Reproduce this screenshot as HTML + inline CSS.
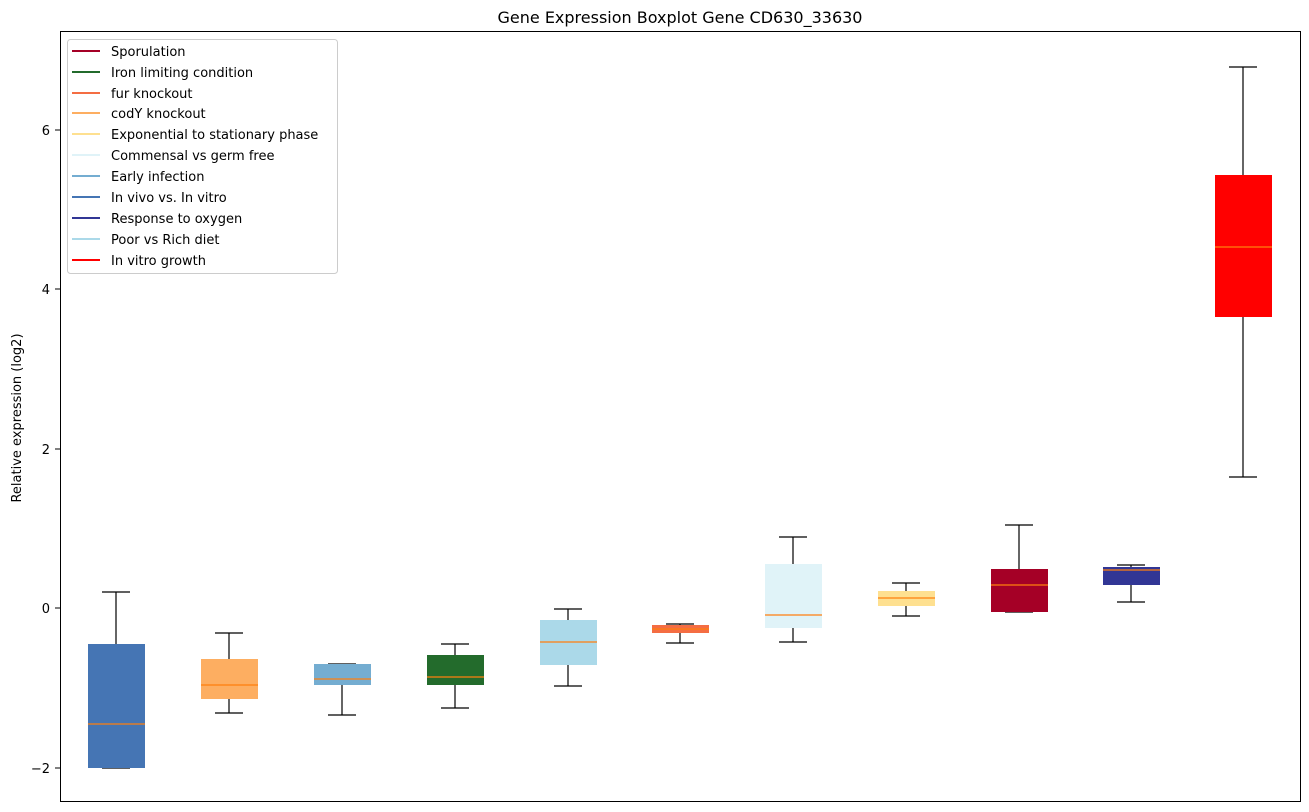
<!DOCTYPE html>
<html><head><style>body{margin:0;background:#fff}svg{display:block}text{font-family:"DejaVu Sans","Liberation Sans",sans-serif}</style></head>
<body>
<svg width="1309" height="812" xmlns="http://www.w3.org/2000/svg">
<rect width="1309" height="812" fill="#fff"/>
<text x="680" y="23" font-size="16" text-anchor="middle">Gene Expression Boxplot Gene CD630_33630</text>
<text transform="translate(21,418) rotate(-90)" font-size="13" text-anchor="middle">Relative expression (log2)</text>
<g font-size="13" text-anchor="end">
<text x="50" y="135">6</text><text x="50" y="294">4</text><text x="50" y="454">2</text><text x="50" y="613">0</text><text x="50" y="773">−2</text>
</g>
<g stroke="#000"><line x1="55" y1="130" x2="60" y2="130"/><line x1="55" y1="289" x2="60" y2="289"/><line x1="55" y1="449" x2="60" y2="449"/><line x1="55" y1="608" x2="60" y2="608"/><line x1="55" y1="768" x2="60" y2="768"/></g>
<g stroke-width="1.2">
<!-- 1 -->
<g stroke="#000"><line x1="116" y1="592" x2="116" y2="768"/><line x1="102" y1="592" x2="130" y2="592"/><line x1="102" y1="768" x2="130" y2="768"/></g>
<rect x="88" y="644" width="57" height="124" fill="#4575b4"/><line x1="88" y1="724" x2="145" y2="724" stroke="#ff7f0e"/>
<!-- 2 -->
<g stroke="#000"><line x1="229" y1="633" x2="229" y2="713"/><line x1="215" y1="633" x2="243" y2="633"/><line x1="215" y1="713" x2="243" y2="713"/></g>
<rect x="201" y="659" width="57" height="40" fill="#fdae61"/><line x1="201" y1="685" x2="258" y2="685" stroke="#ff7f0e"/>
<!-- 3 -->
<g stroke="#000"><line x1="342" y1="664" x2="342" y2="715"/><line x1="328" y1="664" x2="356" y2="664"/><line x1="328" y1="715" x2="356" y2="715"/></g>
<rect x="314" y="664" width="57" height="21" fill="#74add1"/><line x1="314" y1="679" x2="371" y2="679" stroke="#ff7f0e"/>
<!-- 4 -->
<g stroke="#000"><line x1="455" y1="644" x2="455" y2="708"/><line x1="441" y1="644" x2="469" y2="644"/><line x1="441" y1="708" x2="469" y2="708"/></g>
<rect x="427" y="655" width="57" height="30" fill="#236b2c"/><line x1="427" y1="677" x2="484" y2="677" stroke="#ff7f0e"/>
<!-- 5 -->
<g stroke="#000"><line x1="568" y1="609" x2="568" y2="686"/><line x1="554" y1="609" x2="582" y2="609"/><line x1="554" y1="686" x2="582" y2="686"/></g>
<rect x="540" y="620" width="57" height="45" fill="#abd9e9"/><line x1="540" y1="642" x2="597" y2="642" stroke="#ff7f0e"/>
<!-- 6 -->
<g stroke="#000"><line x1="680" y1="624" x2="680" y2="643"/><line x1="666" y1="624" x2="694" y2="624"/><line x1="666" y1="643" x2="694" y2="643"/></g>
<rect x="652" y="625" width="57" height="8" fill="#f46d43"/><line x1="652" y1="629" x2="709" y2="629" stroke="#ff7f0e"/>
<!-- 7 -->
<g stroke="#000"><line x1="793" y1="537" x2="793" y2="642"/><line x1="779" y1="537" x2="807" y2="537"/><line x1="779" y1="642" x2="807" y2="642"/></g>
<rect x="765" y="564" width="57" height="64" fill="#e0f3f8"/><line x1="765" y1="615" x2="822" y2="615" stroke="#ff7f0e"/>
<!-- 8 -->
<g stroke="#000"><line x1="906" y1="583" x2="906" y2="616"/><line x1="892" y1="583" x2="920" y2="583"/><line x1="892" y1="616" x2="920" y2="616"/></g>
<rect x="878" y="591" width="57" height="15" fill="#fee090"/><line x1="878" y1="598" x2="935" y2="598" stroke="#ff7f0e"/>
<!-- 9 -->
<g stroke="#000"><line x1="1019" y1="525" x2="1019" y2="612"/><line x1="1005" y1="525" x2="1033" y2="525"/><line x1="1005" y1="612" x2="1033" y2="612"/></g>
<rect x="991" y="569" width="57" height="43" fill="#a50026"/><line x1="991" y1="585" x2="1048" y2="585" stroke="#ff7f0e"/>
<!-- 10 -->
<g stroke="#000"><line x1="1131" y1="565" x2="1131" y2="602"/><line x1="1117" y1="565" x2="1145" y2="565"/><line x1="1117" y1="602" x2="1145" y2="602"/></g>
<rect x="1103" y="567" width="57" height="18" fill="#313695"/><line x1="1103" y1="570" x2="1160" y2="570" stroke="#ff7f0e"/>
<!-- 11 -->
<g stroke="#000"><line x1="1243" y1="67" x2="1243" y2="477"/><line x1="1229" y1="67" x2="1257" y2="67"/><line x1="1229" y1="477" x2="1257" y2="477"/></g>
<rect x="1215" y="175" width="57" height="142" fill="#ff0000"/><line x1="1215" y1="247" x2="1272" y2="247" stroke="#ff7f0e"/>
</g>
<rect x="60.5" y="31.5" width="1240" height="770" fill="none" stroke="#000"/>
<rect x="67.5" y="39.5" width="270" height="234" rx="3" fill="#fff" fill-opacity="0.8" stroke="#ccc"/>
<g font-size="13" stroke-width="2">
<line x1="72" y1="51" x2="100" y2="51" stroke="#a50026"/><text x="111" y="56">Sporulation</text>
<line x1="72" y1="72" x2="100" y2="72" stroke="#236b2c"/><text x="111" y="77">Iron limiting condition</text>
<line x1="72" y1="93" x2="100" y2="93" stroke="#f46d43"/><text x="111" y="98">fur knockout</text>
<line x1="72" y1="113" x2="100" y2="113" stroke="#fdae61"/><text x="111" y="118">codY knockout</text>
<line x1="72" y1="134" x2="100" y2="134" stroke="#fee090"/><text x="111" y="139">Exponential to stationary phase</text>
<line x1="72" y1="155" x2="100" y2="155" stroke="#e0f3f8"/><text x="111" y="160">Commensal vs germ free</text>
<line x1="72" y1="176" x2="100" y2="176" stroke="#74add1"/><text x="111" y="181">Early infection</text>
<line x1="72" y1="197" x2="100" y2="197" stroke="#4575b4"/><text x="111" y="202">In vivo vs. In vitro</text>
<line x1="72" y1="218" x2="100" y2="218" stroke="#313695"/><text x="111" y="223">Response to oxygen</text>
<line x1="72" y1="239" x2="100" y2="239" stroke="#abd9e9"/><text x="111" y="244">Poor vs Rich diet</text>
<line x1="72" y1="260" x2="100" y2="260" stroke="#ff0000"/><text x="111" y="265">In vitro growth</text>
</g>
</svg>
</body></html>
